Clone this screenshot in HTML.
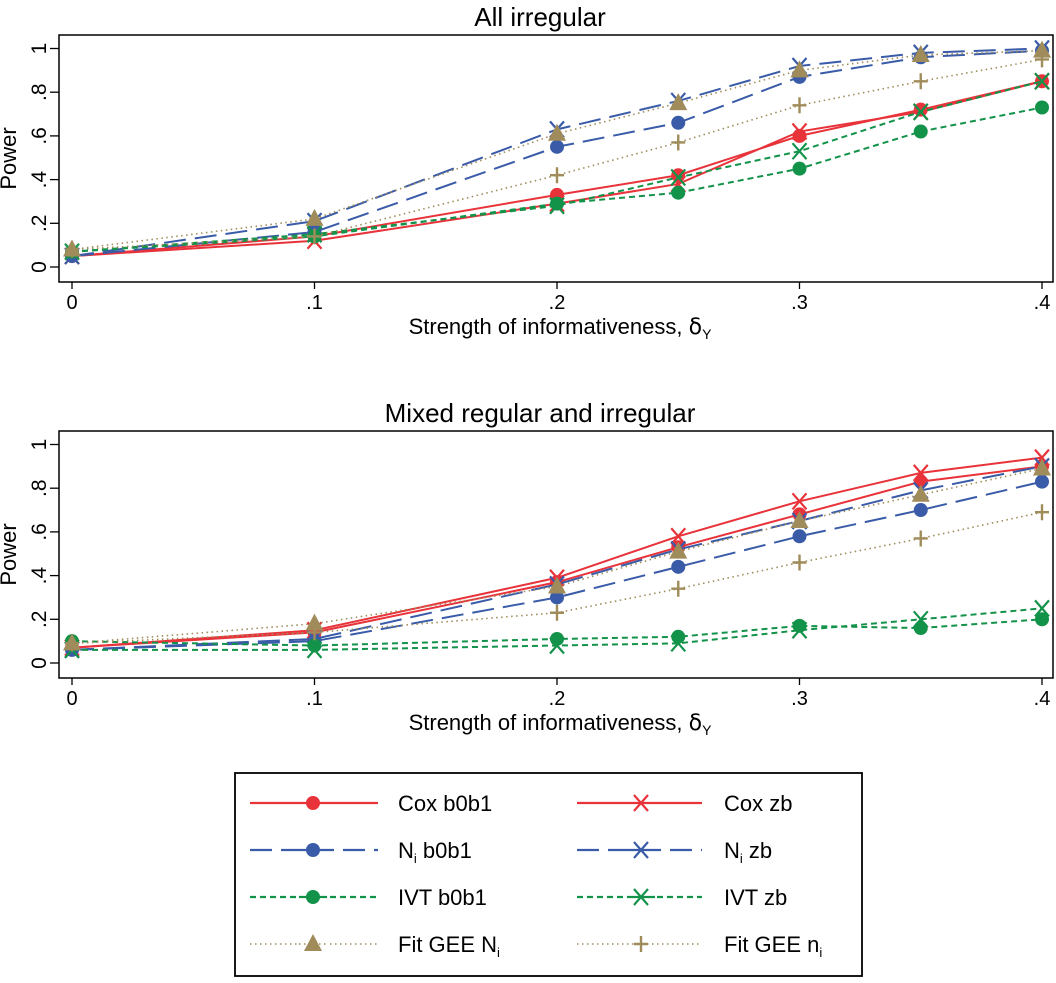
<!DOCTYPE html>
<html><head><meta charset="utf-8"><style>
body{margin:0;background:#fff}
svg text{font-family:"Liberation Sans",sans-serif;fill:#000}
</style></head><body>
<svg id="chart" width="1056" height="978" xmlns="http://www.w3.org/2000/svg"></svg>
<script>
const xVals=[0,0.1,0.2,0.25,0.3,0.35,0.4];
const xTicks=[0,0.1,0.2,0.3,0.4];
const xTickLabels=["0",".1",".2",".3",".4"];
const yTicks=[0,0.2,0.4,0.6,0.8,1];
const yTickLabels=["0",".2",".4",".6",".8","1"];
const panelTitles=["All irregular","Mixed regular and irregular"];
const seriesNames=["Cox b0b1","Cox zb","Ni b0b1","Ni zb","IVT b0b1","IVT zb","Fit GEE Ni","Fit GEE ni"];
const topCoxB=[.05,.14,.33,.42,.60,.72,.85];
const topCoxZ=[.05,.12,.29,.38,.62,.71,.85];
const topNiB=[.05,.16,.55,.66,.87,.96,.99];
const topNiZ=[.05,.21,.63,.76,.92,.98,1.0];
const topIvtB=[.07,.14,.29,.34,.45,.62,.73];
const topIvtZ=[.07,.15,.28,.41,.53,.71,.85];
const topGeeN=[.08,.22,.61,.75,.90,.97,.99];
const topGeeS=[.08,.14,.42,.57,.74,.85,.95];
const botCoxB=[.07,.14,.37,.53,.68,.83,.90];
const botCoxZ=[.07,.15,.39,.58,.74,.87,.94];
const botNiB=[.06,.10,.30,.44,.58,.70,.83];
const botNiZ=[.06,.11,.36,.52,.65,.79,.90];
const botIvtB=[.10,.08,.11,.12,.17,.16,.20];
const botIvtZ=[.06,.06,.08,.09,.15,.20,.25];
const botGeeN=[.09,.18,.35,.51,.65,.77,.89];
const botGeeS=[.09,.14,.23,.34,.46,.57,.69];

const NS="http://www.w3.org/2000/svg";
const svg=document.getElementById('chart');
function mk(tag,attrs,parent){const e=document.createElementNS(NS,tag);for(const k in attrs)e.setAttribute(k,attrs[k]);(parent||svg).appendChild(e);return e;}
const styles=[
 {c:"#e8333a",d:"",m:"circle"},{c:"#e8333a",d:"",m:"x"},
 {c:"#3a5ba8",d:"22 9",m:"circle"},{c:"#3a5ba8",d:"22 9",m:"x"},
 {c:"#13924a",d:"6 4",m:"circle"},{c:"#13924a",d:"6 4",m:"x"},
 {c:"#a08c5a",d:"1.5 3.5",m:"tri"},{c:"#a08c5a",d:"1.5 3.5",m:"plus"}];
const slugs=["cox-b0b1","cox-zb","ni-b0b1","ni-zb","ivt-b0b1","ivt-zb","fit-gee-Ni","fit-gee-ni"];
function marker(g,m,x,y,c){
 let e;
 if(m==="circle")e=mk('circle',{cx:x,cy:y,r:7,fill:c},g);
 else if(m==="x")e=mk('path',{d:`M${x-7},${y-8}L${x+7},${y+8}M${x-7},${y+8}L${x+7},${y-8}`,stroke:c,'stroke-width':2.2,fill:'none'},g);
 else if(m==="tri")e=mk('path',{d:`M${x},${y-10}L${x+9},${y+7}L${x-9},${y+7}Z`,fill:c},g);
 else e=mk('path',{d:`M${x-7},${y}L${x+7},${y}M${x},${y-8}L${x},${y+8}`,stroke:c,'stroke-width':2.4,fill:'none'},g);
 return e;
}
function panel(idx,top,data){
 const L=59,R=1053,T=top,B=top+247;
 const y0=top+232, y1=top+13.5;
 const X=v=>72+(v/0.4)*970;
 const Y=v=>y0+(y1-y0)*v;
 const g=mk('g',{});
 
 
 const t=mk('text',{x:540,y:top-9,'text-anchor':'middle','font-size':26},g);t.textContent=panelTitles[idx];
 
 const box=mk('rect',{x:L,y:T,width:R-L,height:B-T,fill:'none',stroke:'#000','stroke-width':1.5},g);
 
 yTicks.forEach((v,i)=>{
  mk('line',{x1:L-9,x2:L,y1:Y(v),y2:Y(v),stroke:'#000','stroke-width':1.3},g);
  const tl=mk('text',{x:0,y:0,'text-anchor':'middle','font-size':21,transform:`translate(${L-13},${Y(v)}) rotate(-90)`},g);
  tl.textContent=yTickLabels[i];
  
 });
 xTicks.forEach((v,i)=>{
  mk('line',{x1:X(v),x2:X(v),y1:B,y2:B+7,stroke:'#000','stroke-width':1.3},g);
  const tl=mk('text',{x:X(v),y:B+27,'text-anchor':'middle','font-size':20},g);
  tl.textContent=xTickLabels[i];
  
 });
 const yl=mk('text',{x:0,y:0,'text-anchor':'middle','font-size':22,transform:`translate(16,${(T+B)/2}) rotate(-90)`},g);
 yl.textContent='Power';
 const xl=mk('text',{x:560,y:B+52,'text-anchor':'middle','font-size':22},g);
 xl.innerHTML='Strength of informativeness, <tspan font-family="DejaVu Sans">δ</tspan><tspan font-size="14" dy="5">Y</tspan>';
 
 data.forEach((arr,s)=>{
  const st=styles[s];
  const sg=mk('g',{},g);
  
  
  const pts=arr.map((v,i)=>X(xVals[i])+','+Y(v)).join(' ');
  mk('polyline',{points:pts,fill:'none',stroke:st.c,'stroke-width':s>=6?1.6:2,'stroke-dasharray':st.d},sg);
  arr.forEach((v,i)=>{const m=marker(sg,st.m,X(xVals[i]),Y(v),st.c);
   });
 });
}
panel(0,35,[topCoxB,topCoxZ,topNiB,topNiZ,topIvtB,topIvtZ,topGeeN,topGeeS]);
panel(1,431,[botCoxB,botCoxZ,botNiB,botNiZ,botIvtB,botIvtZ,botGeeN,botGeeS]);

const lg=mk('g',{});


mk('rect',{x:235,y:773,width:627,height:203,fill:'#fff',stroke:'#000','stroke-width':1.8},lg);
const labels=[
 'Cox b0b1','Cox zb',
 'N<tspan font-size="13" dy="5">i</tspan><tspan dy="-5"> b0b1</tspan>','N<tspan font-size="13" dy="5">i</tspan><tspan dy="-5"> zb</tspan>',
 'IVT b0b1','IVT zb',
 'Fit GEE N<tspan font-size="13" dy="5">i</tspan>','Fit GEE n<tspan font-size="13" dy="5">i</tspan>'];
const rowsY=[803,850,897,944];
labels.forEach((lab,s)=>{
 const col=s%2,row=Math.floor(s/2);
 const x0=col?577:250, xm=col?641:313, x1=col?702:378, tx=col?724:398, y=rowsY[row];
 const st=styles[s];
 const e=mk('g',{},lg);
 
 
 mk('line',{x1:x0,x2:x1,y1:y,y2:y,stroke:st.c,'stroke-width':s>=6?1.6:2.2,'stroke-dasharray':st.d},e);
 if(st.d){mk('rect',{x:xm-14,y:y-3,width:28,height:6,fill:'#fff'},e);mk('line',{x1:xm-14,x2:xm+14,y1:y,y2:y,stroke:st.c,'stroke-width':s>=6?1.6:2.2,'stroke-dasharray':s>=6?'1.5 3.5':''},e);}
 marker(e,st.m,xm,y,st.c);
 const t=mk('text',{x:tx,y:y+8,'font-size':22},e);t.innerHTML=lab;
});
</script>
</body></html>
